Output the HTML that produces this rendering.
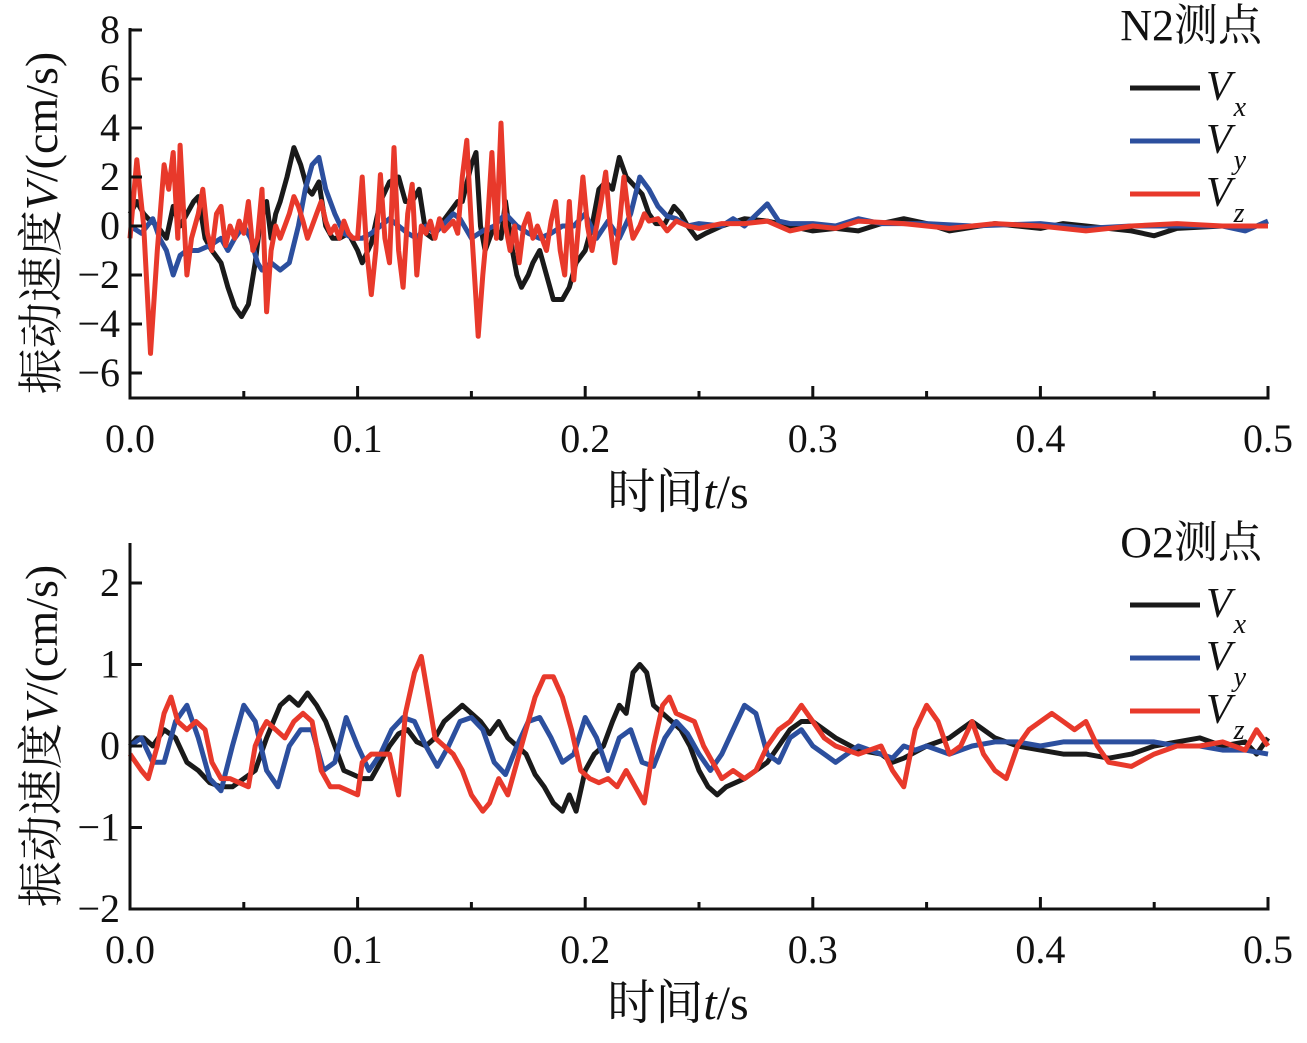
<!DOCTYPE html>
<html><head><meta charset="utf-8"><style>
html,body{margin:0;padding:0;background:#fff;}
svg{display:block;font-family:"Liberation Serif","Noto Serif CJK SC",serif;}
</style></head><body>
<svg id="chart" width="1307" height="1043" viewBox="0 0 1307 1043" xmlns="http://www.w3.org/2000/svg"></svg>
<script>
// ---------- data ----------
const xTicks = [0.0, 0.1, 0.2, 0.3, 0.4, 0.5];
const xTickLabels = ["0.0","0.1","0.2","0.3","0.4","0.5"];
const topYTicks = [8,6,4,2,0,-2,-4,-6];
const topYLabels = ["8","6","4","2","0","\u22122","\u22124","\u22126"];
const botYTicks = [2,1,0,-1,-2];
const botYLabels = ["2","1","0","\u22121","\u22122"];
const seriesNames = ["Vx","Vy","Vz"];

const n2Vx = [[0,0.5],[.003,1],[.006,0.5],[.008,0.3],[.012,0],[.016,-0.5],[.019,0.8],[.022,0],[.025,0.5],[.028,1],[.030,1.2],[.033,-0.5],[.036,-1],[.040,-1.5],[.043,-2.5],[.046,-3.3],[.049,-3.7],[.052,-3.2],[.055,-1.5],[.057,0],[.060,1],[.062,-0.5],[.064,0.5],[.066,1],[.069,2],[.072,3.2],[.075,2.5],[.078,1.5],[.080,1.3],[.083,1.8],[.086,0],[.089,-0.5],[.092,-0.5],[.096,-0.3],[.100,-1],[.102,-1.5],[.106,-0.7],[.110,1],[.114,1.8],[.118,2],[.121,1],[.124,1],[.127,1.5],[.130,-0.3],[.133,-0.5],[.136,0],[.140,0.5],[.144,1],[.146,1],[.150,2.5],[.152,3],[.154,0],[.156,-1],[.158,-0.5],[.160,0],[.163,-0.5],[.165,1],[.168,-1],[.170,-2],[.172,-2.5],[.175,-2],[.177,-1.5],[.180,-1],[.183,-2],[.186,-3],[.190,-3],[.193,-2.5],[.196,-1.5],[.200,-1],[.203,0],[.206,1.5],[.209,1.8],[.212,1.5],[.215,2.8],[.218,2],[.221,1.7],[.225,1.3],[.228,0.5],[.231,0.1],[.235,0.1],[.239,0.8],[.242,0.5],[.245,0],[.249,-0.5],[.253,-0.3],[.26,0],[.27,0.3],[.28,0.2],[.29,0],[.30,-0.2],[.31,-0.1],[.32,-0.2],[.33,0.1],[.34,0.3],[.35,0.1],[.36,-0.2],[.38,0.1],[.40,-0.1],[.41,0.1],[.42,0],[.44,-0.2],[.45,-0.4],[.46,-0.1],[.48,0],[.50,0]];
const n2Vy = [[0,0],[.005,-0.3],[.010,0.3],[.013,-0.5],[.016,-1],[.019,-2],[.022,-1.2],[.025,-1],[.030,-1],[.035,-0.8],[.040,-0.5],[.043,-1],[.046,-0.5],[.050,0],[.053,-0.5],[.056,-1.5],[.058,-1.8],[.062,-1.5],[.066,-1.8],[.070,-1.5],[.074,0],[.077,1.5],[.080,2.5],[.083,2.8],[.086,1.5],[.090,0.5],[.094,-0.3],[.098,-0.5],[.102,-0.5],[.106,-0.3],[.110,0],[.114,0.3],[.118,0],[.122,-0.3],[.126,-0.5],[.130,0],[.134,-0.3],[.138,0.1],[.142,0.5],[.145,0.3],[.150,-0.5],[.155,-0.2],[.160,0],[.165,0.5],[.170,0],[.175,-0.3],[.180,-0.5],[.185,-0.3],[.190,0],[.195,0],[.200,0.5],[.205,-0.5],[.210,0.2],[.215,-0.5],[.220,0.5],[.224,2],[.228,1.5],[.232,0.8],[.236,0.4],[.240,0.3],[.245,0],[.25,0.1],[.26,0],[.265,0.3],[.27,0],[.28,0.9],[.285,0.2],[.29,0.1],[.30,0.1],[.31,0],[.32,0.3],[.33,0.1],[.35,0.1],[.37,0],[.40,0.1],[.42,-0.1],[.44,0],[.46,0],[.48,0],[.49,-0.2],[.50,0.2]];
const n2Vz = [[0,-0.5],[.003,2.7],[.006,0],[.009,-5.2],[.012,-1],[.015,2.5],[.017,1.5],[.019,3.0],[.021,-0.5],[.022,3.3],[.025,-2],[.027,-0.5],[.030,0.5],[.032,1.5],[.034,-0.3],[.036,-1],[.038,0.5],[.040,0.8],[.042,-0.8],[.044,0],[.046,-0.5],[.048,0.2],[.050,-0.3],[.052,1],[.054,-1],[.056,-0.5],[.058,1.5],[.060,-3.5],[.062,-1],[.064,0],[.066,-0.5],[.068,0],[.070,0.5],[.072,1.2],[.074,0.8],[.076,0.2],[.078,-0.5],[.080,0],[.082,0.5],[.084,1],[.086,0.2],[.088,-0.3],[.090,0],[.092,-0.5],[.094,0.2],[.096,-0.3],[.098,-0.5],[.100,-0.5],[.102,2],[.104,-1],[.106,-2.8],[.108,-1],[.110,2.1],[.112,-0.5],[.114,-1.5],[.116,3.2],[.118,-1],[.120,-2.5],[.122,0.5],[.124,1.7],[.126,-2],[.128,0],[.130,-0.3],[.132,0.2],[.134,-0.5],[.136,0.3],[.138,-0.2],[.140,0],[.142,0.2],[.144,-0.3],[.146,2],[.148,3.5],[.150,0],[.152,-3],[.153,-4.5],[.155,-2],[.157,0],[.159,3],[.161,-0.5],[.163,4.2],[.165,0],[.167,-1],[.169,0],[.171,-1.5],[.173,0],[.175,0.5],[.177,-0.5],[.179,0],[.181,-0.5],[.183,-1],[.185,0.2],[.187,1],[.189,-1],[.191,-2],[.193,1],[.195,-2.2],[.197,0],[.199,2],[.201,0],[.203,-1],[.205,0],[.207,1],[.209,2.2],[.211,0],[.213,-1.5],[.215,0],[.217,2],[.219,0.5],[.221,-0.5],[.224,0],[.226,0.5],[.228,0.2],[.232,0.3],[.236,-0.2],[.240,0.2],[.245,0],[.250,-0.1],[.26,0.1],[.27,0.1],[.28,0.2],[.29,-0.2],[.30,0],[.31,-0.1],[.32,0.2],[.34,0.1],[.36,-0.1],[.38,0.1],[.40,0],[.42,-0.2],[.44,0],[.46,0.1],[.48,0],[.50,0]];

const o2Vx = [[0,0],[.003,0.1],[.006,0.1],[.010,0],[.015,0.2],[.020,0.1],[.025,-0.2],[.030,-0.3],[.035,-0.45],[.040,-0.5],[.045,-0.5],[.050,-0.4],[.055,-0.3],[.060,0.1],[.063,0.3],[.066,0.5],[.070,0.6],[.074,0.5],[.078,0.65],[.082,0.5],[.086,0.3],[.090,0],[.094,-0.3],[.098,-0.35],[.102,-0.4],[.106,-0.4],[.110,-0.2],[.114,0],[.118,0.15],[.122,0.2],[.126,0.05],[.130,0],[.134,0.1],[.138,0.3],[.142,0.4],[.146,0.5],[.150,0.4],[.154,0.3],[.158,0.15],[.162,0.3],[.166,0.1],[.170,0.0],[.174,-0.1],[.178,-0.35],[.182,-0.5],[.186,-0.7],[.190,-0.8],[.193,-0.6],[.196,-0.8],[.200,-0.3],[.204,-0.1],[.208,0],[.212,0.3],[.215,0.5],[.218,0.4],[.221,0.9],[.224,1],[.227,0.9],[.230,0.5],[.234,0.4],[.238,0.3],[.242,0.2],[.246,0],[.250,-0.3],[.254,-0.5],[.258,-0.6],[.262,-0.5],[.27,-0.4],[.275,-0.3],[.28,-0.2],[.285,0],[.29,0.2],[.295,0.3],[.30,0.3],[.31,0.1],[.32,-0.05],[.33,-0.1],[.335,-0.2],[.34,-0.15],[.35,0],[.36,0.1],[.365,0.2],[.37,0.3],[.375,0.2],[.38,0.1],[.39,0],[.40,-0.05],[.41,-0.1],[.42,-0.1],[.43,-0.15],[.44,-0.1],[.45,0],[.46,0.05],[.47,0.1],[.48,0],[.49,0.05],[.495,-0.1],[.50,0.1]];
const o2Vy = [[0,0],[.005,0.1],[.010,-0.2],[.015,-0.2],[.020,0.3],[.025,0.5],[.030,0.1],[.035,-0.4],[.040,-0.55],[.045,0],[.050,0.5],[.055,0.3],[.060,-0.3],[.065,-0.5],[.070,0],[.075,0.2],[.080,0.2],[.085,-0.3],[.090,-0.2],[.095,0.35],[.100,0.0],[.105,-0.3],[.110,-0.1],[.115,0.2],[.120,0.35],[.125,0.3],[.130,0],[.135,-0.25],[.140,0],[.145,0.3],[.150,0.35],[.155,0.2],[.160,-0.2],[.165,-0.35],[.170,0],[.175,0.3],[.180,0.35],[.185,0.1],[.190,-0.2],[.195,-0.1],[.200,0.35],[.205,0.1],[.210,-0.3],[.215,0.1],[.220,0.2],[.225,-0.2],[.230,-0.25],[.235,0.1],[.240,0.3],[.245,0.15],[.250,-0.1],[.255,-0.3],[.260,-0.1],[.265,0.2],[.270,0.5],[.275,0.4],[.280,-0.1],[.285,-0.2],[.29,0.1],[.295,0.2],[.30,0],[.305,-0.1],[.31,-0.2],[.32,0],[.33,-0.1],[.335,-0.15],[.34,0],[.345,-0.05],[.35,0],[.36,-0.1],[.37,0],[.38,0.05],[.39,0.05],[.40,0],[.41,0.05],[.42,0.05],[.43,0.05],[.44,0.05],[.45,0.05],[.46,0],[.47,0],[.48,-0.05],[.49,-0.05],[.50,-0.1]];
const o2Vz = [[0,-0.1],[.005,-0.3],[.008,-0.4],[.012,0],[.015,0.4],[.018,0.6],[.021,0.3],[.025,0.2],[.029,0.3],[.033,0.2],[.036,-0.2],[.040,-0.4],[.044,-0.4],[.048,-0.45],[.052,-0.5],[.055,0],[.058,0.2],[.060,0.3],[.064,0.2],[.068,0.1],[.072,0.3],[.076,0.4],[.080,0.3],[.084,-0.3],[.088,-0.5],[.092,-0.5],[.096,-0.55],[.100,-0.6],[.102,-0.2],[.106,-0.1],[.110,-0.1],[.114,-0.1],[.118,-0.6],[.121,0.4],[.125,0.9],[.128,1.1],[.131,0.6],[.134,0.1],[.138,0],[.142,-0.1],[.146,-0.3],[.150,-0.6],[.155,-0.8],[.158,-0.7],[.162,-0.4],[.166,-0.6],[.170,-0.2],[.174,0.2],[.178,0.6],[.182,0.85],[.186,0.85],[.190,0.6],[.194,0.2],[.198,-0.3],[.202,-0.4],[.206,-0.45],[.210,-0.4],[.214,-0.5],[.218,-0.3],[.222,-0.5],[.226,-0.7],[.230,0],[.234,0.5],[.237,0.6],[.240,0.4],[.244,0.35],[.248,0.3],[.252,0],[.256,-0.2],[.260,-0.4],[.265,-0.3],[.270,-0.4],[.275,-0.3],[.280,0],[.285,0.2],[.290,0.3],[.295,0.5],[.300,0.3],[.305,0.1],[.31,0],[.32,-0.1],[.33,0],[.335,-0.3],[.34,-0.5],[.345,0.2],[.35,0.5],[.355,0.3],[.36,-0.1],[.365,0],[.37,0.3],[.375,-0.1],[.38,-0.3],[.385,-0.4],[.39,0],[.395,0.2],[.40,0.3],[.405,0.4],[.41,0.3],[.415,0.2],[.42,0.3],[.425,0],[.43,-0.2],[.44,-0.25],[.45,-0.1],[.46,0],[.47,0],[.48,0.05],[.49,-0.05],[.495,0.2],[.50,0]];

// ---------- drawing ----------
const NS = "http://www.w3.org/2000/svg";
const svg = document.getElementById('chart');
const colors = ["#1a1a1a","#2c4f9e","#e8392b"];
function mk(tag, attrs, parent){ const e=document.createElementNS(NS,tag); for(const k in attrs) e.setAttribute(k,attrs[k]); (parent||svg).appendChild(e); return e; }

function panel(cfg){
  const g = mk('g',{});
  
  
  const L=130, R=1268;
  const xs = t => L + (t/0.5)*(R-L);
  const ys = v => cfg.y0 - v*cfg.k;
  cfg.series.forEach((s,i)=>{
    const p = mk('polyline',{points:s.map(d=>xs(d[0]).toFixed(1)+','+ys(d[1]).toFixed(1)).join(' '),fill:'none',stroke:colors[i],'stroke-width':5,'stroke-linejoin':'round'},g);
    
    
  });
  const ax = mk('path',{d:`M${L},${cfg.top} V${cfg.bottom} H${R} V${cfg.bottom-10}`,fill:'none',stroke:'#111','stroke-width':3},g);
  
  
  xTicks.forEach((t,i)=>{
    mk('line',{x1:xs(t),x2:xs(t),y1:cfg.bottom,y2:cfg.bottom-12,stroke:'#111','stroke-width':3},g);
    if(i<xTicks.length-1) mk('line',{x1:xs(t+0.05),x2:xs(t+0.05),y1:cfg.bottom,y2:cfg.bottom-7,stroke:'#111','stroke-width':3},g);
    const tx = mk('text',{x:xs(t),y:cfg.bottom+54,'font-size':40,'text-anchor':'middle',fill:'#111'},g);
    tx.textContent = xTickLabels[i];
    
    
  });
  cfg.yTicks.forEach((v,i)=>{
    mk('line',{x1:L,x2:L+12,y1:ys(v),y2:ys(v),stroke:'#111','stroke-width':3},g);
    const tx = mk('text',{x:L-10,y:ys(v)+13,'font-size':40,'text-anchor':'end',fill:'#111'},g);
    tx.textContent = cfg.yLabels[i];
    
    
  });
  const xt = mk('text',{x:678,y:cfg.bottom+110,'font-size':48,'text-anchor':'middle',fill:'#111'},g);
  xt.innerHTML = '时间<tspan font-style="italic">t</tspan>/s';
  
  
  const cy = (cfg.top+cfg.bottom)/2 + 10;
  const yt = mk('text',{x:0,y:0,'font-size':46,'text-anchor':'middle',fill:'#111',transform:`translate(57,${cy}) rotate(-90)`},g);
  yt.innerHTML = '振动速度<tspan font-style="italic">V</tspan>/(cm/s)';
  
  
  const lt = mk('text',{x:1262,y:cfg.legTop,'font-size':44,'text-anchor':'end',fill:'#111'},g);
  lt.textContent = cfg.title;
  
  
  const subs=['x','y','z'];
  subs.forEach((s,i)=>{
    const yy = cfg.legTop + 48 + i*53;
    const ln = mk('line',{x1:1130,x2:1200,y1:yy,y2:yy,stroke:colors[i],'stroke-width':5},g);
    
    
    const t = mk('text',{x:1206,y:yy+12,'font-size':42,'font-style':'italic',fill:'#111'},g);
    t.innerHTML = `V<tspan font-size="28" dy="16" dx="2">${s}</tspan>`;
    
    
  });
}

panel({name:'n2-chart',prefix:'n2',title:'N2测点',y0:226,k:24.5,top:28,bottom:398,yTicks:topYTicks,yLabels:topYLabels,series:[n2Vx,n2Vy,n2Vz],legTop:40});
panel({name:'o2-chart',prefix:'o2',title:'O2测点',y0:746,k:81.5,top:543,bottom:909,yTicks:botYTicks,yLabels:botYLabels,series:[o2Vx,o2Vy,o2Vz],legTop:557});
</script>
</body></html>
